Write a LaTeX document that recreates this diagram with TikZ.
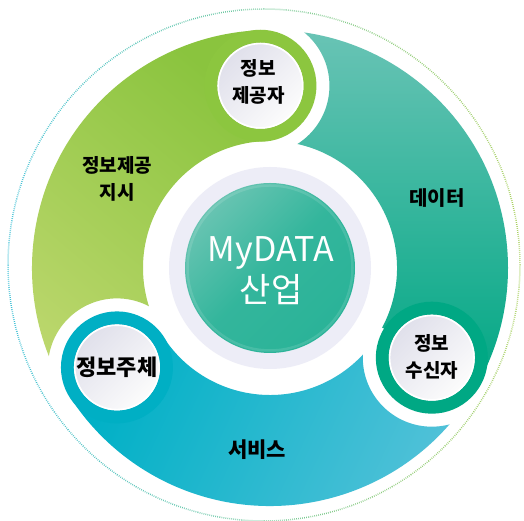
\documentclass[tikz,border=0pt]{standalone}
\usepackage{fontspec}
\newfontfamily\kr{Noto Sans CJK KR}
\usetikzlibrary{calc}
\definecolor{gA}{HTML}{BCD76D}
\definecolor{gB}{HTML}{8AC43E}
\definecolor{tA}{HTML}{6BC4B6}
\definecolor{tB}{HTML}{03A885}
\definecolor{bA}{HTML}{00B0C6}
\definecolor{bB}{HTML}{55C2D9}
\definecolor{gRing}{HTML}{8CC63F}
\definecolor{tRing}{HTML}{00A884}
\definecolor{bRing}{HTML}{00AFC4}
\definecolor{lav}{HTML}{EDEDF7}
\definecolor{cA}{HTML}{68C4B2}
\definecolor{cB}{HTML}{2AB398}
\definecolor{dotL}{HTML}{3CC0D6}
\definecolor{dotR}{HTML}{A8D05C}
\definecolor{pearlA}{HTML}{E0E0EB}
\definecolor{pearlB}{HTML}{FCFCFC}
\tikzset{
  labeltext/.style={font=\kr\bfseries\fontsize{19}{27}\selectfont, align=center, text=black, inner sep=0pt},
  pearl/.style={left color=pearlA, right color=pearlB, shading angle=45},
}
\begin{document}
\begin{tikzpicture}[x=1pt,y=1pt]
\useasboundingbox (0,0) rectangle (524,521);
\fill[white] (0,0) rectangle (524,521);
\coordinate (C) at (270,253);
\coordinate (D) at (264,256);
% dotted outer circle
\foreach \a in {0,5,...,355}{
  \pgfmathsetmacro{\p}{50+50*cos(\a+2.5)}
  \draw[color=dotR!\p!dotL, line width=1.5pt, dash pattern=on 0.7pt off 1.3pt]
    ($(D)+(\a:256)$) arc[start angle=\a, end angle=\a+5, radius=256];
}
% bulb centres
\coordinate (B1) at ($(C)+(93:182.5)$);
\coordinate (B2) at ($(C)+(-29:185)$);
\coordinate (B3) at ($(C)+(213:182.5)$);
% green band
\begin{scope}[even odd rule]
  \clip (0,0) rectangle (524,521) (B3) circle (69);
  \shade[left color=gA, right color=gB, shading angle=140]
    ($(C)+(213:238)$) arc[start angle=213, end angle=93, radius=238]
    -- ($(C)+(93:127)$) arc[start angle=93, end angle=213, radius=127] -- cycle;
\end{scope}
% teal band
\begin{scope}[even odd rule]
  \clip (0,0) rectangle (524,521) (B1) circle (69);
  \shade[top color=tA, bottom color=tB]
    ($(C)+(93:238)$) arc[start angle=93, end angle=-28, radius=238]
    -- ($(C)+(-28:127)$) arc[start angle=-28, end angle=93, radius=127] -- cycle;
\end{scope}
% blue band
\begin{scope}[even odd rule]
  \clip (0,0) rectangle (524,521) (B2) circle (69);
  \shade[left color=bA, right color=bB, shading angle=65]
    ($(C)+(-28:238)$) arc[start angle=-28, end angle=-147, radius=238]
    -- ($(C)+(-147:127)$) arc[start angle=-147, end angle=-28, radius=127] -- cycle;
\end{scope}
% bulbs
\fill[gRing] (B1) circle (56);
\fill[tRing] (B2) circle (56);
\fill[bRing] (B3) circle (56);
\shade[pearl] (B1) circle (43);
\shade[pearl] (B2) circle (43);
\shade[pearl] (B3) circle (43);
\draw[white, line width=1.6pt] (B1) circle (42.2) (B2) circle (42.2) (B3) circle (42.2);
% centre
\fill[lav] (C) circle (101);
\shade[left color=cA, right color=cB, middle color=cB!85!cA, shading angle=45] (C) circle (85);
\draw[white, opacity=0.12, line width=2.5pt] (C) circle (82.5);
\node[font=\kr\fontsize{34}{41}\selectfont, text=white, align=center, inner sep=0pt] (core) at (271,250) {MyDATA\\산업};
% labels
\node[labeltext] (l1) at ($(B1)+(-2,4)$) {정보\\제공자};
\node[labeltext] (l2) at ($(B2)+(0,1)$) {정보\\수신자};
\node[labeltext, font=\kr\bfseries\fontsize{22}{27}\selectfont] (l3) at (B3) {정보주체};
\node[labeltext] (t1) at (117,342) {정보제공\\지시};
\node[labeltext, font=\kr\bfseries\fontsize{20}{27}\selectfont] (t2) at (437,323) {데이터};
\node[labeltext, font=\kr\bfseries\fontsize{21}{27}\selectfont] (t3) at (257,71) {서비스};
\end{tikzpicture}
\end{document}
